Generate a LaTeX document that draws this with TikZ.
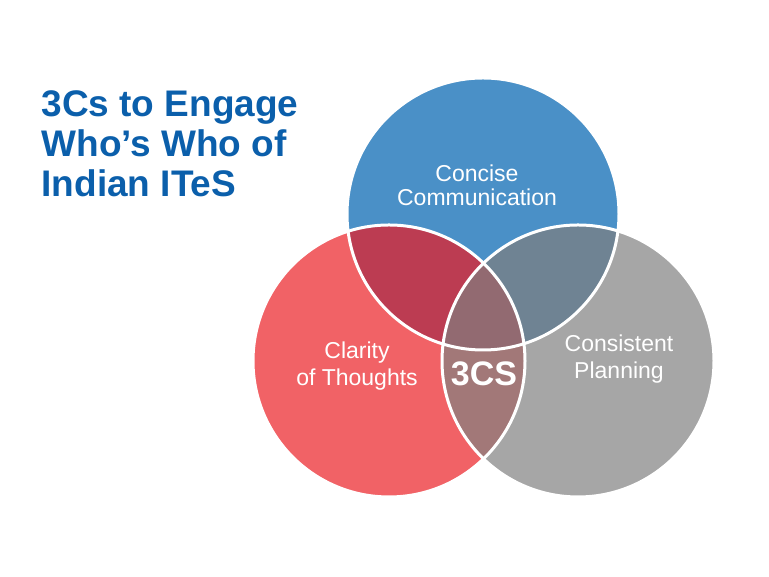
\documentclass[tikz,border=0pt]{standalone}
\usepackage{fontspec}
\setmainfont{Liberation Sans}
\usetikzlibrary{positioning}
\definecolor{titleblue}{HTML}{0B5FAB}
\definecolor{cblue}{HTML}{4A90C7}
\definecolor{cred}{HTML}{F16266}
\definecolor{cgray}{HTML}{A6A6A6}
\definecolor{redblue}{HTML}{BC3C52}
\definecolor{bluegray}{HTML}{6F8393}
\definecolor{redgray}{HTML}{A27878}
\definecolor{allthree}{HTML}{926A71}
\tikzset{
	every node/.style={
		font=\fontsize{23}{27}\selectfont,
		text=white,
		align=center
	},
	title/.style={
		font=\fontsize{37}{40}\selectfont\bfseries,
		text=titleblue,
		align=left,
		anchor=north west
	},
	core/.style={
		font=\fontsize{34}{36}\selectfont\bfseries
	},
	ring/.style={draw=white,line width=3pt},
}
\begin{document}
\begin{tikzpicture}[x=1pt,y=1pt]
		\useasboundingbox (0,0) rectangle (769,577);
		
		\coordinate (top) at (483,363);
		\coordinate (left) at (389,216);
		\coordinate (right) at (578,216);
		
		\fill[cblue] (top) circle (136);
		\fill[cred] (left) circle (136);
		\fill[cgray] (right) circle (136);
		
		\begin{scope}
		\clip (top) circle (136);
		\fill[redblue] (left) circle (136);
		\fill[bluegray] (right) circle (136);
		\end{scope}
		\begin{scope}
		\clip (left) circle (136);
		\fill[redgray] (right) circle (136);
		\clip (right) circle (136);
		\fill[allthree] (top) circle (136);
		\end{scope}
		
		\draw[ring] (top) circle (136);
		\draw[ring] (left) circle (136);
		\draw[ring] (right) circle (136);
		
		\node[font=\fontsize{23}{24}\selectfont] (concise) at (477,392) {Concise\\Communication};
		\node (clarity) at (357,211) {Clarity\\of Thoughts};
		\node (consistent) at (619,218) {Consistent\\Planning};
		\node[core] (core) at (484,203) {3CS};
		
		\node[title] (heading) at (38,490) {3Cs to Engage\\Who’s Who of\\Indian ITeS};
		
		\end{tikzpicture}
\end{document}
